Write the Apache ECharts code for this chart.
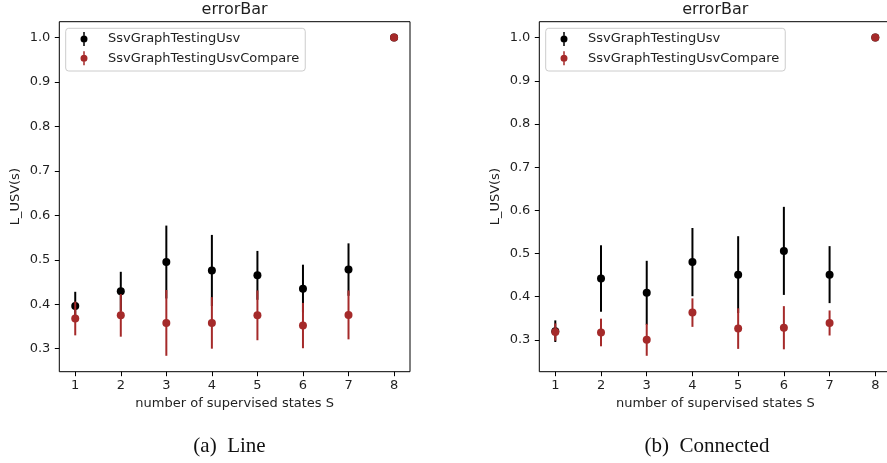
<!DOCTYPE html>
<html>
<head>
<meta charset="utf-8">
<script src="https://cdn.jsdelivr.net/npm/echarts@6/dist/echarts.min.js"></script>
<style>
html,body{margin:0;padding:0;background:#fff;overflow:hidden;}
#chart{width:887px;height:463px;}
</style>
</head>
<body>
<div id="chart"></div>
<script>
// ---- data ----
const xCats = [1, 2, 3, 4, 5, 6, 7, 8];
const xTickLabels = ['1', '2', '3', '4', '5', '6', '7', '8'];
const yTicks = [0.3, 0.4, 0.5, 0.6, 0.7, 0.8, 0.9, 1.0];
const yTickLabels = ['0.3', '0.4', '0.5', '0.6', '0.7', '0.8', '0.9', '1.0'];
const seriesNames = ['SsvGraphTestingUsv', 'SsvGraphTestingUsvCompare'];

// (a) Line
const lineUsv = [0.396, 0.429, 0.495, 0.476, 0.465, 0.435, 0.478, 1.0];
const lineUsvErr = [0.032, 0.044, 0.082, 0.080, 0.055, 0.054, 0.059, 0];
const lineCmp = [0.368, 0.375, 0.358, 0.358, 0.375, 0.352, 0.376, 1.0];
const lineCmpErr = [0.038, 0.048, 0.074, 0.058, 0.056, 0.051, 0.055, 0];

// (b) Connected
const connUsv = [0.320, 0.442, 0.409, 0.480, 0.451, 0.506, 0.451, 1.0];
const connUsvErr = [0.025, 0.077, 0.074, 0.079, 0.089, 0.102, 0.066, 0];
const connCmp = [0.318, 0.317, 0.300, 0.363, 0.326, 0.328, 0.339, 1.0];
const connCmpErr = [0.020, 0.032, 0.037, 0.033, 0.047, 0.050, 0.029, 0];

const titles = ['errorBar', 'errorBar'];
const captions = ['(a)  Line', '(b)  Connected'];
const xName = 'number of supervised states S';
const yName = 'L_USV(s)';

// ---- styling ----
const BLACK = '#000000';
const RED = '#a52a2a';
const TXT = '#1f1f1f';
const FONT = 'DejaVu Sans';
const colors = [BLACK, RED];

function range(vals, errs) {
  let lo = Infinity, hi = -Infinity;
  vals.forEach((arr, k) => arr.forEach((v, i) => {
    lo = Math.min(lo, v - errs[k][i]);
    hi = Math.max(hi, v + errs[k][i]);
  }));
  const m = (hi - lo) * 0.05;
  return [lo - m, hi + m];
}
const xSpan = xCats[xCats.length - 1] - xCats[0];
const xMin = xCats[0] - xSpan * 0.05;
const xMax = xCats[xCats.length - 1] + xSpan * 0.05;

const panels = [
  { vals: [lineUsv, lineCmp], errs: [lineUsvErr, lineCmpErr], left: 59.3, width: 350.7, capCx: 229.5 },
  { vals: [connUsv, connCmp], errs: [connUsvErr, connCmpErr], left: 539.3, width: 352, capCx: 707 }
];

const option = {
  animation: false,
  backgroundColor: '#fff',
  title: [],
  legend: [],
  grid: [],
  xAxis: [],
  yAxis: [],
  series: []
};

const legendIcon = 'path://M2.75,0L4.25,0L4.25,3.5L2.75,3.5Z M2.75,10.5L4.25,10.5L4.25,14L2.75,14Z M0,7A3.5,3.5,0,1,1,7,7A3.5,3.5,0,1,1,0,7Z';

panels.forEach((p, gi) => {
  const yr = range(p.vals, p.errs);
  const cx = p.left + p.width / 2;
  option.grid.push({
    left: p.left, width: p.width, top: 21.7, height: 350,
    outerBoundsMode: 'none',
    show: true, borderColor: '#000', borderWidth: 1, backgroundColor: 'transparent', containLabel: false
  });
  option.title.push({
    text: titles[gi], left: cx, top: 1.5, textAlign: 'center', padding: 0,
    textStyle: { fontFamily: FONT, fontSize: 16, fontWeight: 'normal', color: TXT }
  });
  option.title.push({
    text: captions[gi], left: p.capCx, top: 436, textAlign: 'center', padding: 0,
    textStyle: { fontFamily: 'Liberation Serif', fontSize: 21, fontWeight: 'normal', color: '#111' }
  });
  option.xAxis.push({
    type: 'value', gridIndex: gi, min: xMin, max: xMax,
    name: xName, nameLocation: 'middle', nameGap: 25,
    nameTextStyle: { fontFamily: FONT, fontSize: 13, color: TXT },
    splitLine: { show: false },
    axisLine: { show: false },
    axisTick: { show: true, inside: false, length: 4.5, lineStyle: { color: '#000', width: 1 }, customValues: xCats },
    axisLabel: { show: true, margin: 7, fontFamily: FONT, fontSize: 13, color: TXT,
      customValues: xCats, formatter: v => xTickLabels[xCats.indexOf(Math.round(v))] }
  });
  option.yAxis.push({
    type: 'value', gridIndex: gi, min: yr[0], max: yr[1],
    name: yName, nameLocation: 'middle', nameGap: 37, nameRotate: 90,
    nameTextStyle: { fontFamily: FONT, fontSize: 13, color: TXT },
    splitLine: { show: false },
    axisLine: { show: false },
    axisTick: { show: true, inside: false, length: 4.5, lineStyle: { color: '#000', width: 1 }, customValues: yTicks },
    axisLabel: { show: true, margin: 9, fontFamily: FONT, fontSize: 13, color: TXT,
      customValues: yTicks, formatter: v => yTickLabels[yTicks.findIndex(t => Math.abs(t - v) < 1e-6)] }
  });
  option.legend.push({
    orient: 'vertical',
    left: p.left + 6.4, top: 28.3,
    data: seriesNames.map((n, k) => ({ name: n, itemStyle: { color: colors[k] } })),
    icon: legendIcon, itemWidth: 7, itemHeight: 14, itemGap: 5.3,
    padding: [3.7, 6, 5.7, 14.8],
    backgroundColor: 'rgba(255,255,255,0.8)', borderColor: '#cccccc', borderWidth: 1, borderRadius: 3,
    selectedMode: false,
    textStyle: { fontFamily: FONT, fontSize: 13, color: TXT, lineHeight: 14, padding: [0, 0, 0, 15.5] }
  });
  p.vals.forEach((vals, k) => {
    const errs = p.errs[k];
    const data = xCats.map((x, i) => [x, vals[i], errs[i]]);
    option.series.push({
      type: 'custom', name: seriesNames[k], xAxisIndex: gi, yAxisIndex: gi,
      z: 2 + k * 2, silent: true, itemStyle: { color: colors[k] },
      data: data,
      renderItem: function (params, api) {
        const x = api.value(0), y = api.value(1), e = api.value(2);
        if (e <= 0) return null;
        const a = api.coord([x, y - e]);
        const b = api.coord([x, y + e]);
        return { type: 'line', shape: { x1: a[0], y1: a[1], x2: b[0], y2: b[1] },
          style: { stroke: colors[k], lineWidth: 2 } };
      }
    });
    option.series.push({
      type: 'scatter', name: seriesNames[k], xAxisIndex: gi, yAxisIndex: gi,
      z: 3 + k * 2, silent: true, symbol: 'circle', symbolSize: 8,
      itemStyle: { color: colors[k], opacity: 1 },
      emphasis: { disabled: true },
      data: xCats.map((x, i) => [x, vals[i]])
    });
  });
});

const chart = echarts.init(document.getElementById('chart'), null, { renderer: 'canvas' });
chart.setOption(option);
</script>
</body>
</html>
